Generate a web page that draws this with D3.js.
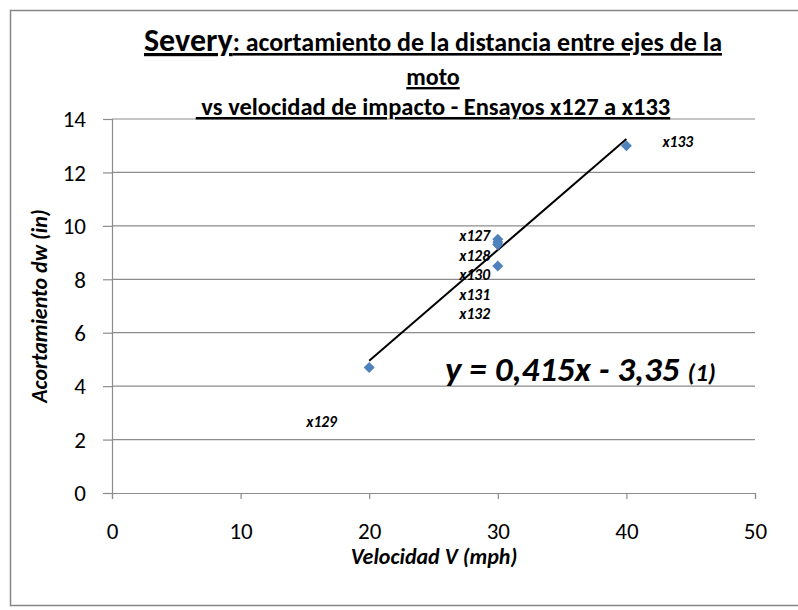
<!DOCTYPE html>
<html>
<head>
<meta charset="utf-8">
<script src="https://cdn.jsdelivr.net/npm/d3@7"></script>
<style>
  body { margin: 0; background: #fff; }
  svg { display: block; font-family: Carlito, Calibri, Lato, sans-serif; }
</style>
</head>
<body>
<div id="chart"></div>
<script>
'use strict';

// Ensayos x127..x133
var tests = ['x127', 'x128', 'x129', 'x130', 'x131', 'x132', 'x133'];
var speed = [30, 30, 20, 30, 30, 30, 40];          // V (mph)
var shortening = [9.5, 9.4, 4.7, 9.3, 9.3, 8.5, 13]; // dw (in)

// label anchors, in data units (labels were moved by hand in the original)
var labelX = [28.2, 28.2, 16.3, 28.2, 28.2, 28.2, 44.0];
var labelY = [9.62, 8.88, 2.66, 8.16, 7.42, 6.70, 13.15];

var xTicks = [0, 10, 20, 30, 40, 50];
var yTicks = [0, 2, 4, 6, 8, 10, 12, 14];

// trend line y = 0,415x - 3,35
var slope = 0.415, intercept = -3.35;
var trendRange = [20, 40];

var width = 798, height = 610;
var svg = d3.select('#chart').append('svg')
  .attr('width', width)
  .attr('height', height);

// outer frame
svg.append('rect')
  .attr('x', 10.5).attr('y', 10.5)
  .attr('width', 800).attr('height', 595)
  .attr('fill', '#fff')
  .attr('stroke', '#868686')
  .attr('stroke-width', 1.5);

var x = d3.scaleLinear().domain([0, 50]).range([112, 755]);
var y = d3.scaleLinear().domain([0, 14]).range([493, 119]);

// gridlines
svg.append('g')
  .selectAll('line')
  .data(yTicks.slice(1))
  .enter().append('line')
  .attr('x1', x(0)).attr('x2', x(50))
  .attr('y1', function(d) { return y(d); })
  .attr('y2', function(d) { return y(d); })
  .attr('stroke', '#8c8c8c')
  .attr('stroke-width', 1.2);

// axes
var xAxis = svg.append('g')
  .attr('transform', 'translate(0,' + y(0) + ')')
  .call(d3.axisBottom(x).tickValues(xTicks).tickSize(6).tickPadding(24));
var yAxis = svg.append('g')
  .attr('transform', 'translate(' + x(0) + ',0)')
  .call(d3.axisLeft(y).tickValues(yTicks).tickSize(9).tickPadding(17));

[xAxis, yAxis].forEach(function(ax) {
  ax.select('.domain').attr('stroke', '#8c8c8c').attr('stroke-width', 1.2);
  ax.selectAll('.tick line').attr('stroke', '#8c8c8c').attr('stroke-width', 1.2);
  ax.selectAll('.tick text')
    .attr('fill', '#000')
    .style('font-family', 'Carlito, Calibri, Lato, sans-serif')
    .style('font-size', '23px');
});
yAxis.selectAll('.tick text').attr('dy', '0.34em');

// trend line
svg.append('line')
  .attr('x1', x(trendRange[0]))
  .attr('y1', y(slope * trendRange[0] + intercept))
  .attr('x2', x(trendRange[1]))
  .attr('y2', y(slope * trendRange[1] + intercept))
  .attr('stroke', '#000')
  .attr('stroke-width', 2);

// diamonds
var diamond = d3.symbol().type(d3.symbolSquare).size(60);
svg.append('g')
  .selectAll('path')
  .data(tests)
  .enter().append('path')
  .attr('d', diamond)
  .attr('transform', function(d, i) {
    return 'translate(' + x(speed[i]) + ',' + y(shortening[i]) + ') rotate(45)';
  })
  .attr('fill', '#4f81bd');

// point labels
svg.append('g')
  .selectAll('text')
  .data(tests)
  .enter().append('text')
  .attr('x', function(d, i) { return x(labelX[i]); })
  .attr('y', function(d, i) { return y(labelY[i]); })
  .attr('dy', '0.35em')
  .attr('text-anchor', 'middle')
  .style('font-size', '15.5px')
  .style('font-weight', 'bold')
  .style('font-style', 'italic')
  .text(function(d) { return d; });

// equation
var eq = svg.append('text')
  .attr('x', 445).attr('y', 381)
  .style('font-weight', 'bold')
  .style('font-style', 'italic');
eq.append('tspan').style('font-size', '35px').text('y = 0,415x - 3,35 ');
eq.append('tspan').style('font-size', '25px').text('(1)');

// title
var title = svg.append('g').style('font-weight', 'bold');
var t1 = title.append('text')
  .attr('x', 433).attr('y', 51)
  .attr('text-anchor', 'middle')
  .attr('text-decoration', 'underline');
t1.append('tspan').style('font-size', '32px').text('Severy');
t1.append('tspan').style('font-size', '26px').text(': acortamiento de la distancia entre ejes de la');
title.append('text')
  .attr('x', 433).attr('y', 85)
  .attr('text-anchor', 'middle')
  .attr('text-decoration', 'underline')
  .style('font-size', '24px')
  .text('moto');
title.append('text')
  .attr('x', 433).attr('y', 115)
  .attr('text-anchor', 'middle')
  .attr('text-decoration', 'underline')
  .style('font-size', '24.5px')
  .text('\u00a0vs velocidad de impacto - Ensayos x127 a x133');

// axis titles
svg.append('text')
  .attr('x', 434).attr('y', 564)
  .attr('text-anchor', 'middle')
  .style('font-size', '22px')
  .style('font-weight', 'bold')
  .style('font-style', 'italic')
  .text('Velocidad V (mph)');

svg.append('text')
  .attr('transform', 'translate(47,' + y(7) + ') rotate(-90)')
  .attr('text-anchor', 'middle')
  .style('font-size', '22px')
  .style('font-weight', 'bold')
  .style('font-style', 'italic')
  .text('Acortamiento dw (in)');
</script>
</body>
</html>
